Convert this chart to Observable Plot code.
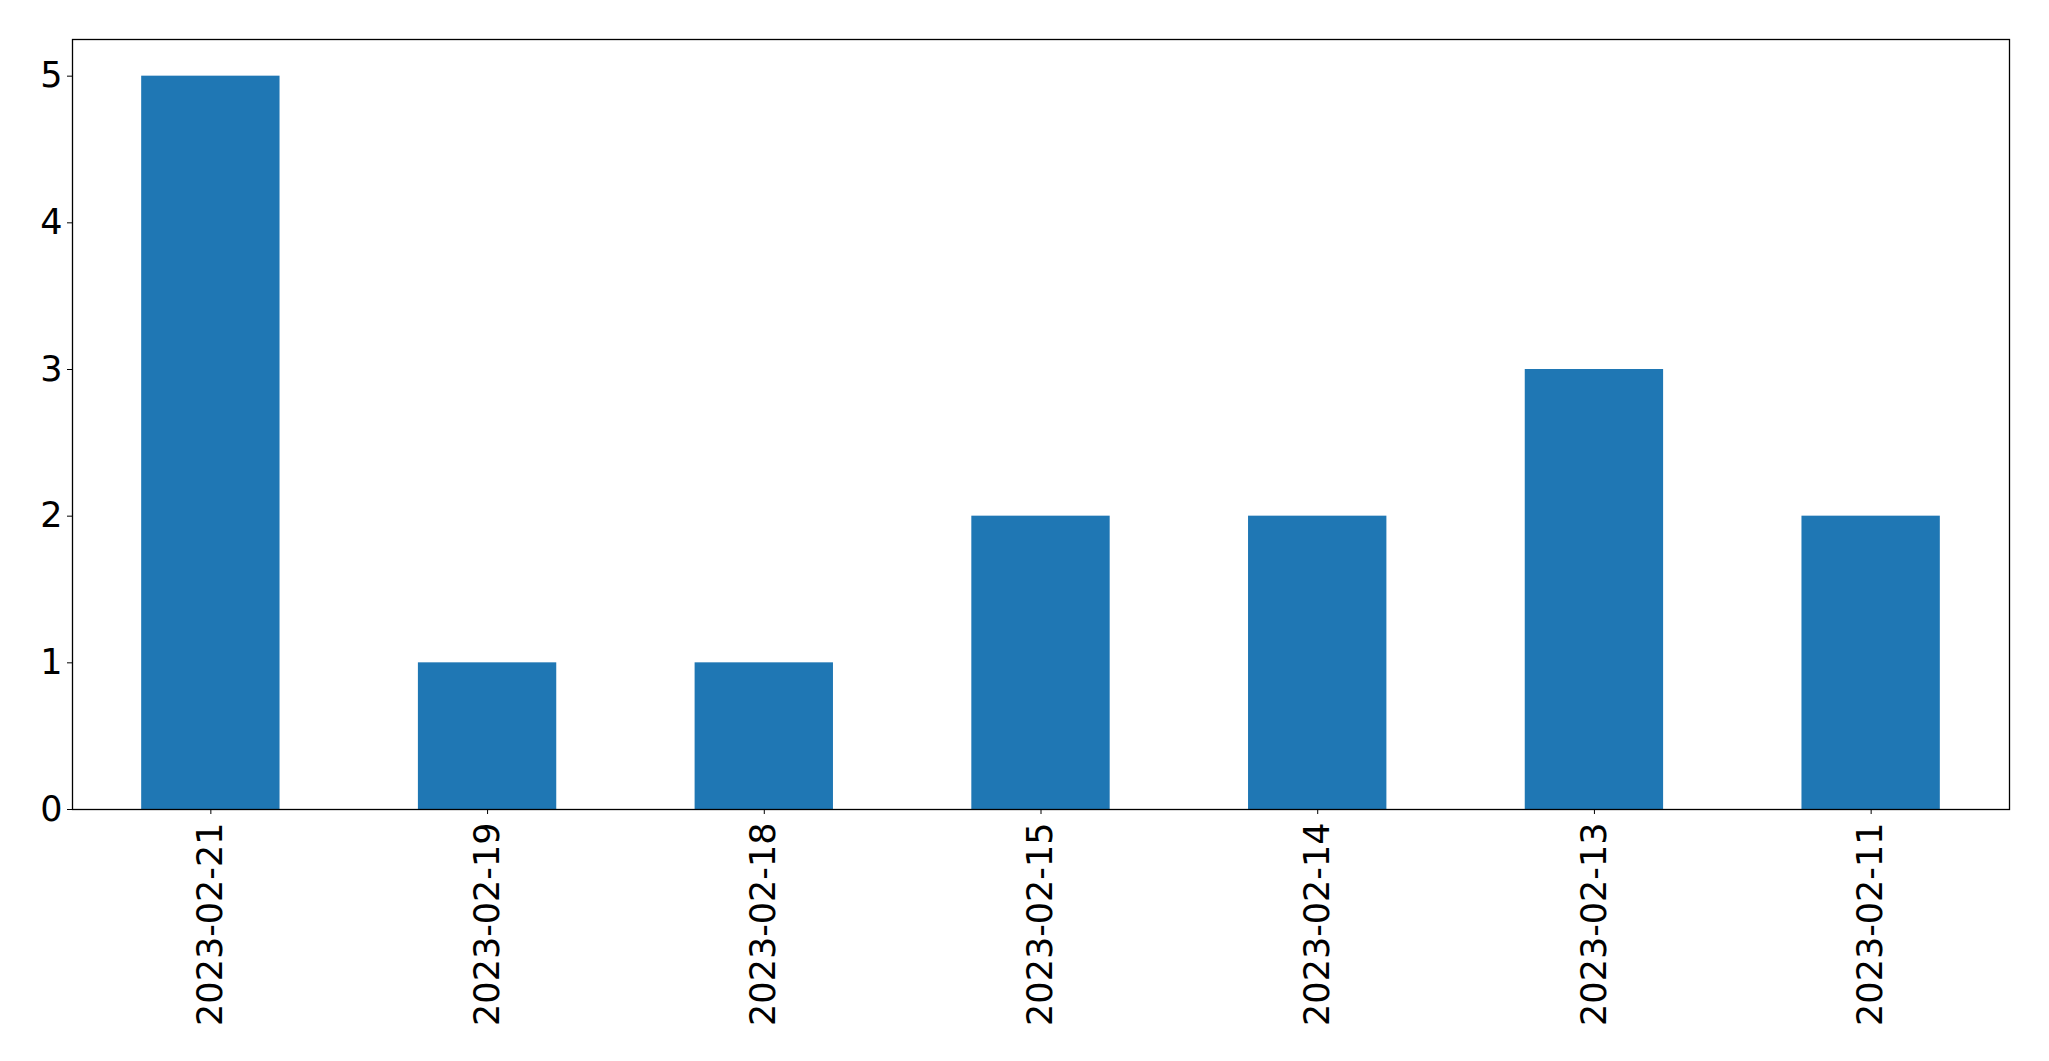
<!DOCTYPE html>
<html>
<head>
<meta charset="utf-8">
<script src="https://cdn.jsdelivr.net/npm/d3@7"></script>
<script src="https://cdn.jsdelivr.net/npm/@observablehq/plot@0.6"></script>
<style>
  html, body { margin: 0; padding: 0; background: #fff; }
  #chart svg { display: block; }
</style>
</head>
<body>
<div id="chart"></div>
<script>
const dates = ["2023-02-21", "2023-02-19", "2023-02-18", "2023-02-15", "2023-02-14", "2023-02-13", "2023-02-11"];
const counts = [5, 1, 1, 2, 2, 3, 2];
const yTicks = [0, 1, 2, 3, 4, 5];

const data = dates.map((d, i) => ({date: d, count: counts[i]}));

const chart = Plot.plot({
  width: 2049,
  height: 1061,
  marginTop: 39,
  marginBottom: 252,
  marginLeft: 72,
  marginRight: 40,
  style: {fontFamily: "'DejaVu Sans', sans-serif", fontSize: "35px", color: "black", background: "white"},
  x: {type: "band", domain: dates, paddingInner: 0.5, paddingOuter: 0.25, round: false, label: null},
  y: {domain: [0, 5.25], label: null},
  marks: [
    Plot.barY(data, {x: "date", y: "count", fill: "#1f77b4"}),
    Plot.axisY({ticks: yTicks, tickSize: 5, tickPadding: 5, tickFormat: d => String(d), label: null, fontSize: 35, stroke: "black"}),
    Plot.axisX({tickSize: 5, tickRotate: -90, tickPadding: 8, label: null, fontSize: 35, stroke: "black"}),
    Plot.frame({stroke: "black", strokeWidth: 1.3})
  ]
});
document.getElementById("chart").appendChild(chart);
</script>
</body>
</html>
